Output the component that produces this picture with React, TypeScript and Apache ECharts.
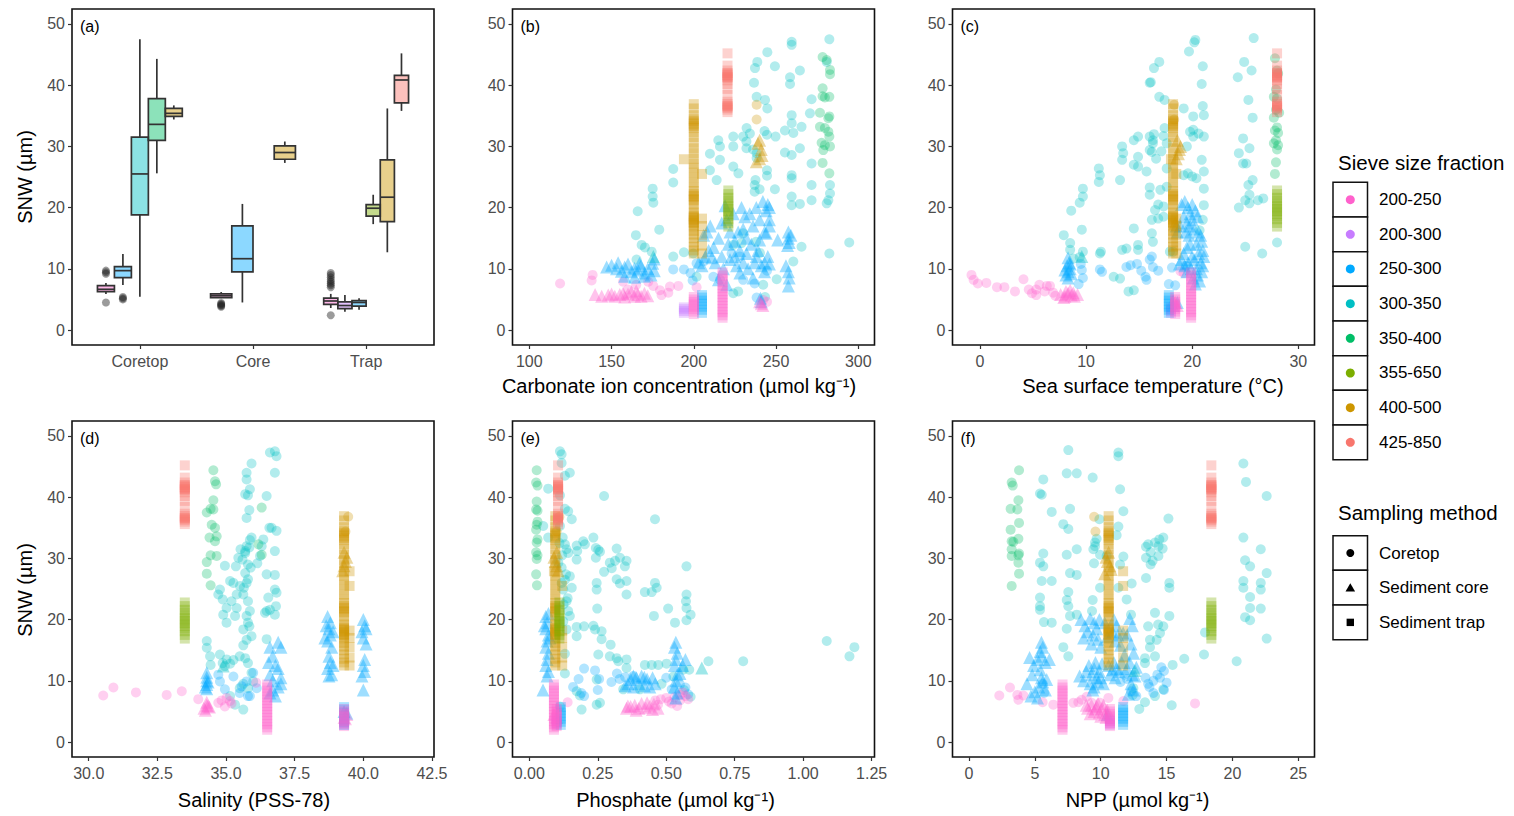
import React, { useEffect, useRef } from "react";
import * as echarts from "echarts";

// ---------- categories ----------
const FRACTIONS = ["200-250", "200-300", "250-300", "300-350", "350-400", "355-650", "400-500", "425-850"];
const FRACTION_COLORS = ["#FF61CC", "#C77CFF", "#00A9FF", "#00BFC4", "#00BE67", "#7CAE00", "#CD9600", "#F8766D"];
const METHODS = ["Coretop", "Sediment core", "Sediment trap"];
const BOX_GROUPS = ["Coretop", "Core", "Trap"];
const Y_TICKS = [0, 10, 20, 30, 40, 50];

// ---------- panel (a): boxplot stats [low whisker, q1, median, q3, high whisker] ----------
const BOX_CORETOP_FRAC = ["200-250", "250-300", "300-350", "350-400", "400-500"];
const BOX_CORETOP_STATS = [
  [5.9, 6.27, 6.65, 7.25, 7.7],
  [7.35, 8.55, 9.7, 10.35, 12.4],
  [5.45, 18.8, 25.5, 31.5, 47.5],
  [25.6, 31.0, 33.6, 37.8, 44.3],
  [34.4, 34.9, 35.4, 36.2, 36.7],
];
const BOX_CORE_FRAC = ["200-250", "250-300", "300-350", "400-500"];
const BOX_CORE_STATS = [
  [5.2, 5.3, 5.6, 5.9, 6.2],
  [4.5, 9.5, 11.65, 17.0, 20.6],
  null,
  [27.3, 27.9, 29.0, 30.1, 30.8],
];
const BOX_TRAP_FRAC = ["200-250", "200-300", "250-300", "355-650", "400-500", "425-850"];
const BOX_TRAP_STATS = [
  [3.6, 4.2, 4.74, 5.2, 5.9],
  [3.0, 3.5, 4.0, 4.6, 5.7],
  [3.3, 3.9, 4.5, 4.8, 5.2],
  [17.3, 18.6, 19.9, 20.5, 22.1],
  [12.7, 17.7, 21.7, 27.8, 36.2],
  [35.8, 37.1, 40.85, 41.6, 45.2],
];
const OUT_CORETOP_200_250 = [4.5, 9.2, 9.45, 9.7];
const OUT_CORETOP_250_300 = [5.0, 5.2, 5.4];
const OUT_CORE_200_250 = [3.8, 3.95, 4.1, 4.25, 4.4];
const OUT_TRAP_200_250 = [2.4, 7.0, 7.3, 7.6, 7.9, 8.2, 8.6, 9.0, 9.3];

// ---------- sediment trap sites: env = [carbonate, SST, salinity, phosphate, NPP] ----------
const TRAP_SALMON_ENV = [220.5, 28.0, 33.5, 0.105, 18.4];
const TRAP_SALMON_SNW = [35.6, 36.0, 36.3, 36.5, 36.6, 36.8, 36.9, 37.3, 38.4, 39.4, 40.2, 40.8, 41.1, 41.3, 41.4, 41.6, 41.7, 41.9, 42.0, 42.4, 43.2, 45.2];
const TRAP_YGREEN_ENV = [221.0, 28.0, 33.5, 0.11, 18.4];
const TRAP_YGREEN_SNW = [16.9, 17.5, 18.1, 18.6, 19.0, 19.4, 19.8, 20.2, 20.6, 21.1, 21.6, 22.2, 22.8];
const TRAP_GOLD_ENV = [200.0, 18.2, 39.3, 0.095, 10.6];
const TRAP_GOLD_SNW = [12.5, 13.0, 13.6, 14.3, 15.0, 15.6, 16.2, 16.7, 17.1, 17.5, 17.6, 17.9, 18.1, 18.3, 18.5, 18.7, 19.2, 19.8, 20.5, 21.2, 21.4, 21.7, 21.9, 22.2, 22.7, 23.3, 24.1, 24.9, 25.7, 26.5, 27.2, 28.0, 28.9, 29.7, 30.6, 31.5, 32.3, 33.0, 33.3, 33.6, 33.9, 34.2, 34.5, 35.1, 36.2, 36.9];
const TRAP_GOLD2_ENV = [205.0, 18.5, 39.5, 0.12, 11.7];
const TRAP_GOLD2_SNW = [12.5, 13.8, 15.5, 17.0, 18.2, 25.5];
const TRAP_GOLD3_ENV = [194.0, 18.0, 39.5, 0.09, 11.7];
const TRAP_GOLD3_SNW = [27.9];
const TRAP_PINK_A_ENV = [200.0, 18.4, 39.3, 0.10, 10.7];
const TRAP_PINK_A_SNW = [2.6, 3.0, 3.4, 3.8, 4.2, 4.6, 5.0, 5.4];
const TRAP_PINK_B_ENV = [217.5, 19.9, 36.5, 0.09, 7.1];
const TRAP_PINK_B_SNW = [2.0, 2.4, 2.9, 3.4, 3.9, 4.4, 4.9, 5.4, 5.9, 6.4, 6.9, 7.4, 7.9, 8.4, 8.9, 9.4];
const TRAP_PURPLE_ENV = [194.0, 18.0, 39.3, 0.10, 10.7];
const TRAP_PURPLE_SNW = [2.8, 3.1, 3.4, 3.7];
const TRAP_BLUE_ENV = [205.0, 17.8, 39.3, 0.115, 11.7];
const TRAP_BLUE_SNW = [2.8, 3.3, 3.8, 4.3, 4.8, 5.3, 5.7];

// ---------- panel (b): carbonate ion ----------
const B_CT_PINK = [[118.7, 7.6], [138.5, 9.0], [137.9, 8.1], [157, 7.9], [172.3, 7.9], [175.4, 7.2], [179.4, 6.5], [180.4, 5.7], [185.5, 7.1], [190.6, 7.2], [201.7, 7.0], [184.5, 6.1], [165, 7.4], [160, 6.6], [242.2, 4.9], [244.5, 4.6]];
const B_CT_BLUE = [[187.5, 9.9], [194, 9.9], [198, 9.3], [199.3, 8.1], [201.7, 10.9], [211.9, 8.7], [216, 8.2], [223, 12.5], [230, 8.2], [237, 7.6], [238.2, 5.3], [244.5, 9.7], [228, 12.0], [206, 11.2]];
const B_CT_CYAN = [[282.4, 47.5], [259.5, 47.1], [259.5, 46.6], [244.7, 45.4], [249.3, 43.1], [238.6, 43.8], [237.2, 42.8], [264.5, 42.4], [280.8, 43.8], [258.5, 41.3], [258.5, 40.2], [236.6, 40.4], [238.2, 38.1], [243.3, 37.6], [244.7, 36.2], [271.6, 37.7], [270.6, 35.4], [259.5, 35.1], [259.5, 33.8], [265.5, 33.2], [260.5, 32.2], [255.4, 32.6], [232.1, 33.0], [234.1, 32.1], [230, 31.6], [224, 31.6], [214.9, 31.0], [224, 30.0], [215.9, 30.0], [232, 29.7], [244.5, 31.9], [249.7, 31.6], [264.5, 29.7], [255.4, 29.0], [259.5, 28.6], [238.2, 28.9], [238.2, 28.1], [209.8, 28.8], [215.9, 27.8], [224, 26.7], [227.1, 25.6], [209.8, 26.1], [213.9, 24.5], [244.5, 26.1], [244.5, 25.2], [259.5, 25.3], [259.5, 24.8], [271.6, 27.2], [271.6, 23.7], [237, 23.7], [237, 22.6], [249.3, 23.0], [282.8, 23.7], [282.8, 22.3], [281.8, 21.2], [259.5, 21.8], [259.5, 20.4], [264.5, 20.6], [271.6, 21.2], [280.8, 20.7], [187.5, 26.3], [187.5, 24.1], [175, 23.1], [175, 21.8], [175.4, 20.8], [165.9, 19.4], [179, 16.4], [164.8, 15.5], [168.3, 13.9], [170.3, 13.5], [174.4, 12.8], [165.2, 11.5], [187.5, 12.0], [194, 12.7], [199.7, 12.5], [201.7, 8.7], [224, 13.9], [229, 14.2], [230, 15.8], [237.8, 14.4], [240.2, 12.6], [265.5, 13.6], [260.5, 11.2], [282.4, 12.5], [294.5, 14.3], [250.4, 8.3], [242.2, 7.4], [224, 6.0], [227, 6.3], [243.3, 5.4], [237.5, 24.5], [240, 23.0], [243, 32.5], [236, 29.5], [232, 30.8]];
const B_CT_GREEN = [[278.3, 44.6], [280.8, 44.1], [282.8, 42.5], [282.8, 41.8], [278.3, 39.5], [278.3, 38.2], [279.7, 38.0], [282.4, 38.1], [276.7, 35.5], [282.4, 34.9], [281.8, 34.6], [276.7, 33.2], [279.7, 33.0], [281.8, 32.4], [282.4, 31.6], [277.7, 30.6], [279.7, 30.2], [282.8, 30.0], [278.7, 29.4], [278.3, 27.3], [282.4, 25.6]];
const B_CT_GOLD = [[238.2, 36.8], [238.2, 34.4]];
const B_SC_PINK = [[140, 5.8], [144, 5.5], [148, 5.7], [152, 5.5], [155, 5.8], [158, 5.4], [160, 5.9], [162, 6.2], [164, 5.5], [166, 5.8], [168, 5.5], [170, 6.0], [172, 5.6], [150, 5.9], [165, 6.4], [157, 6.0], [241, 4.3], [242, 4.0], [240, 4.6]];
const B_SC_BLUE = [[147, 10.3], [150, 10.6], [153, 10.0], [156, 9.6], [158, 10.3], [160, 10.8], [162, 9.5], [164, 10.1], [166, 9.8], [168, 10.5], [170, 9.3], [172, 10.0], [174, 9.0], [175, 10.9], [176, 9.7], [158, 8.8], [164, 8.6], [170, 8.8], [176, 11.6], [154, 11.0], [167, 10.9],
  [203, 11], [205, 10.5], [207, 12], [208, 16], [210, 17], [206, 15.5], [212, 13.5], [213, 11], [215, 15], [217, 12], [218, 10], [219, 20.3], [220, 18], [221, 14], [222, 11.5], [224, 19], [225, 12], [226, 10.5], [227, 16], [228, 13], [229, 20], [230, 11], [231, 18.5], [232, 12.5], [233, 10], [234, 19], [235, 14], [236, 17], [237, 11], [238, 20], [239, 13], [240, 18], [241, 10.5], [242, 21], [243, 16], [244, 19.5], [245, 12], [246, 18], [243, 9.5], [236, 8.5], [228, 9.3], [215, 8.2], [220, 7.4], [240, 14.7], [244, 15.8], [245, 20.5], [238, 12], [232, 15], [225, 14.5], [211, 11.8], [209, 13], [243, 11], [246, 10.8], [217, 17.5], [222, 16], [230, 16.5],
  [257.5, 16], [257.5, 15], [258, 14.3], [257, 13.8], [256, 10.5], [257.5, 9.5], [258, 8.5], [257.5, 7.2], [259, 15.5], [251, 14.7], [246, 20], [246, 17], [240.5, 5.2], [241, 4.6]];
const B_SC_GOLD = [[240, 31], [241, 29.5], [240, 28], [239, 30.5], [241.5, 28.5], [238, 27.5]];
const B_SC_CYAN = [[175.4, 12.0]];

// ---------- panel (c): sea surface temperature ----------
const C_CT_PINK = [[-0.8, 9.0], [-0.6, 8.2], [-0.2, 7.6], [0.6, 7.7], [1.6, 7.0], [2.3, 7.0], [3.3, 6.3], [4.1, 8.3], [4.6, 6.6], [5.3, 6.6], [5.6, 7.4], [5.3, 5.7], [6.3, 7.2], [6.6, 7.2], [6.9, 6.1], [7.1, 5.6], [6.1, 6.3], [4.9, 6.0], [18.9, 9.6], [19.2, 9.3]];
const C_CT_BLUE = [[9.5, 10.8], [9.6, 9.8], [9.7, 8.5], [9.3, 7.5], [11.3, 9.9], [11.5, 9.5], [13.8, 10.3], [14.2, 10.6], [14.8, 10.8], [15.2, 9.7], [15.6, 8.7], [15.7, 8.2], [16.3, 10.3], [16.8, 9.7], [16.2, 12.0], [17.8, 7.5], [18.1, 10.2], [18.4, 7.3], [16.0, 11.5], [19.4, 10.5]];
const C_CT_CYAN = [[8.6, 19.5], [9.4, 20.8], [9.7, 21.8], [9.7, 23.1], [7.9, 15.5], [8.5, 14.2], [8.5, 13.1], [9.6, 16.4], [9.7, 12.8], [8.8, 11.7], [9.4, 11.9], [11.3, 12.5], [11.4, 12.8], [11.2, 26.4], [11.3, 25.3], [11.2, 24.2], [12.6, 8.7], [13.2, 24.5], [13.4, 30.0], [13.5, 28.9], [13.4, 27.8], [13.4, 13.1], [13.8, 13.3], [13.2, 8.4], [14.0, 6.3], [14.5, 6.5], [14.5, 16.6], [14.5, 31.0], [14.5, 27.0], [14.9, 31.6], [14.9, 28.3], [14.9, 26.7], [14.9, 13.9], [14.9, 13.1], [15.7, 25.9], [16.0, 31.6], [16.3, 31.0], [16.0, 29.4], [16.2, 29.1], [16.0, 23.3], [16.0, 22.1], [16.0, 40.4], [16.4, 42.8], [16.9, 43.8], [16.9, 38.1], [16.2, 15.8], [16.3, 14.4], [16.5, 19.6], [17.0, 22.9], [16.8, 18.2], [17.3, 20.2], [17.4, 37.6], [17.4, 33.0], [17.3, 31.7], [17.6, 30.5], [17.6, 26.4], [17.6, 23.4], [17.9, 12.8], [18.2, 12.8], [19.2, 36.2], [19.8, 32.4], [20.1, 32.7], [20.1, 31.6], [19.5, 30.0], [19.7, 45.5], [20.2, 47.0], [20.3, 47.4], [21.0, 43.1], [20.9, 40.2], [21.0, 36.6], [21.1, 35.1], [20.6, 32.1], [21.1, 31.6], [20.1, 34.9], [19.2, 25.3], [19.6, 25.6], [20.0, 25.1], [20.4, 24.8], [20.9, 27.8], [21.1, 25.9], [21.1, 23.1], [21.1, 20.4], [21.0, 18.0], [20.7, 16.3], [24.3, 41.3], [24.9, 43.8], [25.6, 42.4], [25.8, 47.7], [25.3, 37.6], [25.7, 34.7], [24.8, 31.3], [25.4, 29.7], [24.4, 28.9], [24.8, 27.2], [25.1, 27.2], [25.3, 23.7], [25.7, 24.5], [25.4, 22.1], [25.0, 21.2], [24.4, 20.0], [25.4, 20.7], [26.2, 21.2], [26.7, 21.5], [25.0, 13.6], [26.6, 12.5], [28.0, 14.3], [16.3, 30.5], [16.4, 32.0], [16.1, 40.5], [17.1, 29.2], [16.6, 28.0], [16.2, 18.0], [17.3, 18.5], [16.8, 20.5]];
const C_CT_GREEN = [[27.8, 44.4], [28.0, 42.4], [28.1, 41.9], [27.9, 39.3], [27.7, 38.1], [28.0, 37.8], [27.9, 36.0], [28.2, 35.5], [27.7, 34.7], [28.0, 33.1], [27.8, 32.6], [28.1, 32.2], [27.9, 31.0], [27.7, 30.5], [28.1, 30.2], [28.0, 29.5], [27.9, 27.4], [27.8, 25.5]];
const C_CT_GOLD = [[18.3, 36.8], [18.3, 34.4]];
const C_SC_PINK = [[7.6, 5.8], [8.0, 5.5], [8.3, 6.0], [8.6, 5.7], [8.9, 5.5], [9.2, 5.8], [8.1, 6.3], [8.5, 6.5], [7.9, 5.3], [8.8, 6.1], [18.4, 4.5], [18.6, 4.0], [18.2, 4.8]];
const C_SC_BLUE = [[8.1, 9.0], [8.3, 9.5], [8.5, 10], [8.2, 10.5], [8.4, 11], [8.3, 11.8], [8.0, 9.8], [8.6, 9.2], [8.3, 8.5], [8.5, 10.8],
  [19.0, 20.5], [19.3, 21], [19.6, 20], [19.8, 19], [20.0, 18], [19.2, 18.5], [19.5, 17.5], [19.8, 17], [20.2, 16.5], [18.9, 17], [19.4, 16], [19.7, 15.5], [20.3, 19.5], [20.5, 18.5], [20.6, 16], [20.9, 14.5], [21.0, 13], [20.8, 15.5], [19.2, 12.5], [19.5, 13.5], [19.8, 14], [20.0, 12], [19.0, 11.5], [19.3, 10.5], [19.6, 11], [19.9, 10], [20.2, 11.5], [20.4, 10], [20.6, 12.5], [20.8, 11], [21.0, 10.5], [20.5, 9], [20.1, 8.5], [20.7, 8], [20.3, 7.5], [20.9, 9.5], [19.5, 9.5], [18.8, 10.8], [18.6, 16], [18.5, 17], [20.0, 20.5], [21.1, 12], [20.4, 14], [18.6, 4.5], [18.2, 4.0]];
const C_SC_GOLD = [[18.6, 31], [18.8, 29.5], [18.5, 28], [18.9, 30], [18.7, 28.8], [18.4, 17.5]];
const C_SC_CYAN = [[9.6, 12.0]];

// ---------- panel (d): salinity ----------
const D_CT_PINK = [[30.53, 7.6], [30.9, 8.9], [31.72, 8.1], [32.84, 7.7], [33.39, 8.3], [33.99, 7.0], [34.72, 6.4], [34.84, 6.8], [35.02, 7.2], [35.15, 6.7], [34.96, 5.8], [35.2, 6.3], [36.1, 9.7]];
const D_CT_BLUE = [[34.72, 11.0], [34.78, 9.9], [34.96, 8.6], [35.5, 8.0], [35.8, 7.5], [35.27, 10.7], [35.57, 9.1], [35.99, 11.3], [36.12, 8.8], [35.75, 9.9], [35.87, 7.5]];
const D_CT_CYAN = [[34.3, 16.5], [34.3, 15.4], [34.42, 14.0], [34.44, 12.6], [34.78, 14.3], [34.88, 12.9], [34.96, 12.4], [35.02, 13.5], [35.15, 12.8], [35.27, 13.4], [35.5, 14.0], [35.7, 13.7], [35.8, 12.9], [34.78, 24.9], [34.72, 24.1], [34.96, 28.8], [34.88, 23.3], [35.02, 21.9], [35.2, 23.0], [34.9, 20.8], [35.02, 19.5], [35.33, 20.6], [35.39, 21.9], [35.39, 24.1], [35.27, 26.0], [35.15, 26.3], [35.51, 25.5], [35.36, 28.7], [35.45, 30.1], [35.53, 31.5], [35.6, 29.8], [35.7, 30.9], [35.75, 32.0], [35.87, 33.0], [35.93, 33.4], [35.7, 27.6], [35.75, 26.0], [35.8, 26.6], [35.63, 24.1], [35.8, 23.0], [35.75, 20.6], [35.8, 19.5], [35.63, 18.4], [35.85, 18.9], [35.87, 21.4], [35.75, 16.7], [35.63, 15.8], [35.93, 17.3], [35.75, 36.6], [35.85, 37.9], [35.7, 40.5], [35.75, 42.9], [35.75, 44.0], [35.93, 45.5], [35.87, 41.3], [35.8, 40.3], [36.14, 29.2], [36.24, 30.4], [36.3, 32.0], [36.36, 33.1], [36.48, 40.2], [36.58, 35.0], [36.48, 27.4], [36.54, 23.6], [36.48, 21.4], [36.42, 21.1], [36.6, 21.6], [36.48, 16.8], [36.6, 47.3], [36.78, 47.5], [36.84, 46.7], [36.78, 44.0], [36.84, 34.5], [36.66, 35.0], [36.78, 31.2], [36.78, 27.3], [36.78, 24.9], [36.84, 24.4], [36.82, 22.2], [36.78, 20.8], [35.93, 11.3], [35.99, 9.9], [35.5, 8.8], [35.63, 9.5], [35.8, 8.8], [35.63, 5.3], [35.33, 6.1], [35.15, 7.5], [35.7, 31.2], [35.8, 29.0], [35.65, 25.2], [35.85, 31.8], [35.9, 28.5]];
const D_CT_GREEN = [[34.54, 44.4], [34.6, 42.6], [34.64, 42.1], [34.54, 39.5], [34.44, 38.1], [34.54, 38.0], [34.3, 37.5], [34.48, 35.5], [34.6, 35.0], [34.4, 33.4], [34.6, 32.8], [34.66, 33.6], [34.44, 30.5], [34.66, 30.4], [34.3, 29.4], [34.3, 27.5], [34.44, 25.6], [36.3, 38.3], [36.3, 30.6], [36.18, 32.3]];
const D_CT_GOLD = [[39.45, 36.8], [39.35, 34.4]];
const D_SC_PINK = [[34.2, 5.5], [34.3, 6.0], [34.4, 5.7], [34.3, 6.5], [34.25, 5.2], [34.35, 5.9], [39.3, 4.0], [39.4, 4.5], [39.35, 3.8]];
const D_SC_BLUE = [[34.3, 8.7], [34.3, 9.4], [34.3, 10.0], [34.3, 10.6], [34.3, 11.3], [34.25, 9.0], [34.35, 9.8],
  [36.6, 15.5], [36.7, 14], [36.8, 12.5], [36.6, 11], [36.7, 10], [36.9, 9], [36.6, 8], [36.8, 7.5], [37.0, 10.5], [37.0, 15.5], [36.9, 16.3], [36.55, 13], [36.7, 8.5], [37.0, 9.5], [36.9, 12],
  [38.7, 20.5], [38.8, 19.5], [38.75, 18.5], [38.8, 17.5], [38.7, 16.5], [38.85, 15.5], [38.75, 14], [38.8, 13], [38.7, 12], [38.85, 11], [38.75, 10.8], [38.65, 19], [38.9, 18], [38.6, 17], [38.9, 12.5],
  [40.0, 20], [40.05, 19], [39.95, 18], [40.0, 17], [40.1, 16], [40.0, 12.5], [40.05, 11.5], [39.95, 10.8], [40.0, 8.5], [40.05, 13.5], [40.1, 18.5], [39.3, 5.0], [39.4, 4.7]];
const D_SC_GOLD = [[39.3, 31], [39.35, 29.5], [39.25, 28], [39.4, 30.2], [39.3, 28.8]];
const D_SC_CYAN = [[34.9, 12.4]];

// ---------- panel (e): phosphate ----------
const E_CT_PINK = [[0.14, 6.5], [0.46, 6.8], [0.48, 7.0], [0.5, 7.2], [0.52, 6.3], [0.53, 7.3], [0.54, 5.9], [0.55, 6.8], [0.57, 7.5], [0.58, 7.0], [0.56, 8.1], [0.47, 6.1], [0.51, 6.6], [0.55, 7.7]];
const E_CT_BLUE = [[0.2, 12.0], [0.18, 10.3], [0.19, 8.0], [0.2, 7.5], [0.24, 11.7], [0.255, 10.3], [0.25, 8.5], [0.3, 9.8], [0.33, 10.3], [0.32, 11.2], [0.35, 10.6], [0.38, 10.8], [0.5, 10.5], [0.52, 8.6], [0.55, 9.4], [0.57, 8.9], [0.58, 7.8], [0.16, 9.0]];
const E_CT_CYAN = [[0.112, 47.5], [0.118, 47.0], [0.118, 45.6], [0.13, 43.5], [0.148, 44.0], [0.069, 41.4], [0.112, 40.3], [0.13, 38.1], [0.142, 37.7], [0.155, 36.4], [0.051, 35.3], [0.069, 33.4], [0.112, 35.3], [0.122, 33.4], [0.13, 32.3], [0.136, 31.5], [0.142, 30.9], [0.106, 29.3], [0.118, 28.5], [0.134, 27.4], [0.148, 27.1], [0.118, 26.0], [0.124, 24.9], [0.155, 25.2], [0.136, 23.0], [0.142, 21.4], [0.148, 20.6], [0.124, 19.7], [0.136, 18.4], [0.13, 14.4], [0.13, 11.2], [0.173, 32.1], [0.175, 31.2], [0.173, 29.8], [0.197, 32.8], [0.203, 32.3], [0.234, 33.4], [0.243, 31.7], [0.252, 31.4], [0.258, 31.1], [0.243, 30.1], [0.319, 31.6], [0.313, 29.6], [0.294, 29.3], [0.273, 27.8], [0.301, 28.4], [0.331, 30.1], [0.349, 28.7], [0.355, 29.6], [0.319, 26.6], [0.331, 25.9], [0.355, 26.3], [0.355, 24.1], [0.246, 26.0], [0.246, 24.9], [0.248, 21.8], [0.422, 24.5], [0.447, 24.5], [0.459, 26.0], [0.465, 25.2], [0.455, 20.6], [0.459, 36.4], [0.273, 40.2], [0.507, 21.8], [0.574, 28.7], [0.574, 24.1], [0.572, 23.0], [0.574, 21.9], [0.589, 20.8], [0.574, 19.9], [0.532, 19.5], [1.086, 16.5], [1.187, 15.5], [1.169, 14.0], [0.781, 13.2], [0.654, 13.2], [0.173, 18.8], [0.2, 18.9], [0.234, 19.0], [0.24, 18.4], [0.264, 18.1], [0.264, 16.8], [0.297, 15.9], [0.173, 17.3], [0.294, 14.0], [0.252, 14.3], [0.319, 13.7], [0.325, 13.2], [0.355, 13.5], [0.355, 12.1], [0.422, 12.6], [0.447, 12.6], [0.471, 12.6], [0.501, 12.8], [0.562, 11.8], [0.584, 11.8], [0.246, 10.2], [0.173, 8.3], [0.185, 7.6], [0.191, 5.3], [0.246, 6.1], [0.258, 6.4], [0.343, 8.6], [0.404, 8.6], [0.483, 9.5], [0.526, 10.7], [0.565, 8.5], [0.589, 7.4], [0.112, 5.8], [0.125, 22.5], [0.13, 26.5], [0.12, 30.5], [0.11, 32.5], [0.14, 23.5]];
const E_CT_GREEN = [[0.027, 44.4], [0.025, 42.4], [0.03, 41.9], [0.027, 39.3], [0.025, 38.0], [0.03, 37.8], [0.027, 35.5], [0.025, 34.7], [0.03, 33.1], [0.027, 32.6], [0.025, 31.0], [0.03, 30.5], [0.027, 29.9], [0.025, 27.4], [0.028, 25.6], [0.03, 36.0]];
const E_CT_GOLD = [[0.1, 34.4], [0.11, 36.8]];
const E_SC_PINK = [[0.355, 5.5], [0.37, 5.8], [0.385, 6.0], [0.40, 5.5], [0.41, 6.3], [0.425, 5.6], [0.44, 5.9], [0.455, 6.2], [0.47, 5.5], [0.39, 5.2], [0.43, 6.4], [0.45, 5.3], [0.36, 5.9], [0.09, 4.5], [0.1, 4.0]];
const E_SC_BLUE = [[0.06, 20.5], [0.07, 21], [0.065, 19.5], [0.06, 18.5], [0.07, 17.5], [0.065, 16.5], [0.06, 15.5], [0.07, 14.5], [0.065, 13.5], [0.06, 12.5], [0.07, 11.5], [0.065, 10.8], [0.055, 19], [0.075, 17], [0.05, 8.5],
  [0.36, 9.5], [0.37, 10.2], [0.38, 9.0], [0.39, 10.5], [0.40, 9.5], [0.41, 10.8], [0.42, 9.2], [0.43, 10.3], [0.44, 9.0], [0.45, 10.5], [0.46, 9.5], [0.38, 10.8], [0.42, 10.6], [0.35, 9.2],
  [0.535, 16.3], [0.53, 15.5], [0.54, 14.5], [0.535, 13.5], [0.53, 12.5], [0.54, 11], [0.535, 10], [0.53, 9], [0.54, 8], [0.535, 7.2], [0.57, 13.5], [0.56, 12.5], [0.55, 11.2]];
const E_SC_GOLD = [[0.1, 31], [0.095, 29.5], [0.105, 28], [0.09, 30.2], [0.1, 28.8]];
const E_SC_CYAN = [[0.63, 12.1]];

// ---------- panel (f): NPP ----------
const F_CT_PINK = [[2.3, 7.6], [3.11, 8.9], [3.67, 7.7], [3.75, 6.9], [4.13, 7.6], [5.59, 6.5], [6.4, 6.1], [7.92, 6.4], [8.3, 6.5], [8.93, 7.4], [9.31, 6.4], [17.16, 6.3], [11.72, 6.7], [10.58, 7.2], [9.95, 6.4], [8.55, 6.9]];
const F_CT_BLUE = [[5.6, 9.5], [5.7, 8.0], [11.5, 9.8], [11.8, 11.0], [12.0, 10.3], [12.3, 8.3], [13.4, 10.5], [13.6, 9.5], [14.0, 10.0], [14.3, 11.0], [14.6, 12.2], [14.8, 11.6], [14.0, 8.0], [13.7, 9.0], [14.8, 8.5], [15.0, 9.7], [14.5, 10.5], [12.7, 7.5]];
const F_CT_CYAN = [[7.54, 47.7], [11.34, 47.3], [11.34, 46.7], [9.39, 43.2], [7.42, 43.9], [8.18, 43.9], [5.64, 42.9], [11.47, 41.3], [5.39, 40.6], [5.52, 40.4], [7.67, 38.1], [6.28, 37.6], [11.72, 37.7], [15.14, 36.5], [7.16, 35.6], [7.54, 34.8], [11.34, 35.2], [11.21, 33.8], [9.9, 36.4], [9.69, 33.2], [9.57, 32.0], [9.44, 31.5], [9.57, 32.6], [8.18, 31.5], [5.64, 30.8], [7.42, 30.6], [10.45, 30.4], [11.72, 30.3], [9.95, 30.6], [5.39, 29.3], [5.64, 28.7], [9.49, 29.2], [11.47, 29.0], [7.67, 27.6], [8.18, 27.3], [5.52, 26.3], [6.28, 26.3], [9.95, 25.2], [11.34, 25.2], [12.35, 25.9], [7.54, 24.5], [5.39, 23.6], [5.39, 22.2], [5.39, 21.6], [7.42, 23.2], [7.54, 22.2], [9.39, 23.2], [11.97, 23.3], [9.34, 21.4], [8.18, 20.8], [7.67, 20.6], [5.69, 19.6], [6.28, 19.5], [7.42, 18.5], [12.3, 20.8], [14.12, 21.1], [15.21, 20.6], [13.6, 18.9], [14.36, 19.2], [14.75, 18.9], [13.74, 16.7], [14.25, 16.7], [14.5, 17.8], [7.16, 15.5], [7.54, 14.0], [13.74, 15.5], [13.36, 13.7], [14.12, 14.0], [15.46, 12.6], [16.34, 13.6], [17.84, 14.3], [20.32, 13.2], [13.36, 12.9], [13.44, 31.9], [13.6, 32.3], [13.79, 31.0], [13.94, 29.6], [13.79, 29.0], [14.12, 32.6], [14.38, 32.0], [14.45, 33.1], [14.75, 33.4], [14.7, 31.6], [14.38, 30.4], [13.44, 30.1], [13.44, 26.8], [15.21, 26.0], [15.21, 25.2], [20.83, 45.5], [21.03, 42.5], [22.6, 40.2], [20.83, 33.4], [20.96, 29.7], [21.34, 28.7], [22.15, 31.5], [20.83, 26.3], [20.83, 25.2], [21.34, 23.7], [22.15, 26.0], [22.15, 24.9], [22.6, 27.6], [21.34, 21.9], [22.15, 21.8], [20.96, 20.4], [21.34, 19.9], [22.6, 16.9], [17.92, 17.9], [15.39, 6.0], [12.93, 5.4], [13.36, 6.5], [12.43, 7.7], [12.48, 8.8], [14.12, 7.5], [14.75, 8.6]];
const F_CT_GREEN = [[3.24, 42.4], [3.32, 41.9], [3.8, 44.4], [3.75, 39.5], [3.16, 38.1], [3.67, 38.0], [3.8, 35.8], [3.16, 34.7], [3.24, 32.8], [3.37, 32.7], [3.75, 33.2], [3.24, 31.5], [3.8, 30.8], [3.75, 30.5], [3.75, 29.3], [3.8, 27.5], [3.24, 25.5], [3.24, 30.4]];
const F_CT_GOLD = [[9.5, 36.8], [9.6, 34.4]];
const F_SC_PINK = [[9.0, 5.5], [9.3, 6.0], [9.5, 5.0], [9.7, 5.8], [9.9, 4.8], [10.1, 5.5], [10.3, 4.5], [10.5, 5.2], [9.2, 4.6], [9.8, 6.3], [10.0, 4.2], [10.4, 4.0], [9.6, 5.4], [8.9, 6.0], [10.2, 6.0]];
const F_SC_BLUE = [[5.5, 16.3], [5.6, 15.5], [5.4, 14.8], [5.5, 14.0], [5.2, 13.5], [4.6, 13.8], [4.9, 12.5], [5.8, 13.0], [6.1, 13.5], [4.8, 11.0], [5.5, 10.5], [5.6, 9.8], [5.3, 9.0], [5.0, 8.2], [4.7, 7.5], [5.2, 7.2], [5.8, 8.5], [5.9, 10.2], [4.4, 9.5], [5.4, 11.8],
  [8.5, 20], [8.8, 19], [9.2, 20.2], [9.5, 19.5], [9.7, 18.5], [9.9, 20], [9.0, 18], [9.4, 17.5], [8.7, 17], [9.3, 16], [9.8, 16.8], [10.0, 15.5], [8.9, 11.5], [9.1, 12.5], [9.3, 11.0], [9.5, 12], [9.7, 10.5], [9.9, 11.5], [9.2, 9.5], [9.5, 9.0], [9.8, 9.8], [10.0, 10.5], [8.7, 10], [8.4, 10.8], [10.2, 9.5], [9.6, 13.0], [9.4, 8.5], [10.1, 12.8],
  [11.0, 20], [11.2, 19], [10.9, 18], [11.3, 17.5], [11.1, 16.5], [11.5, 15.8], [11.0, 13], [11.2, 12], [11.4, 11.5], [11.1, 10.5], [10.9, 11.8], [11.6, 13], [12.2, 20.2], [12.4, 19], [12.0, 17.5], [12.3, 16], [12.5, 14.5], [12.2, 13], [12.0, 12], [12.4, 11], [12.6, 10.8], [12.3, 9.5], [12.5, 8.5], [12.1, 7.8], [11.8, 14.2], [11.7, 17.8], [12.7, 12.2], [10.6, 12.5], [10.7, 11.0], [10.3, 19.5], [10.5, 17.2], [10.5, 4.5]];
const F_SC_GOLD = [[10.6, 31], [10.5, 29.5], [10.8, 28.2], [10.4, 30.2], [10.7, 28.8], [10.3, 27.5]];
const F_SC_CYAN = [[12.6, 11.7]];

// ---------- axes ----------
const X_AXES = [
  { min: 89.79, max: 309.85, ticks: [100, 150, 200, 250, 300], dec: 0 },
  { min: -2.59, max: 31.53, ticks: [0, 10, 20, 30], dec: 0 },
  { min: 29.392, max: 42.575, ticks: [30, 32.5, 35, 37.5, 40, 42.5], dec: 1 },
  { min: -0.0613, max: 1.2604, ticks: [0, 0.25, 0.5, 0.75, 1.0, 1.25], dec: 2 },
  { min: -1.253, max: 26.23, ticks: [0, 5, 10, 15, 20, 25], dec: 0 },
];
const X_TITLES = ["Carbonate ion concentration (µmol kg⁻¹)", "Sea surface temperature (°C)", "Salinity (PSS-78)", "Phosphate (µmol kg⁻¹)", "NPP (µmol kg⁻¹)"];
const PANEL_LABELS = ["(a)", "(b)", "(c)", "(d)", "(e)", "(f)"];

const PANEL_POINTS = [
  { ctPink: B_CT_PINK, ctBlue: B_CT_BLUE, ctCyan: B_CT_CYAN, ctGreen: B_CT_GREEN, ctGold: B_CT_GOLD, scPink: B_SC_PINK, scBlue: B_SC_BLUE, scGold: B_SC_GOLD, scCyan: B_SC_CYAN },
  { ctPink: C_CT_PINK, ctBlue: C_CT_BLUE, ctCyan: C_CT_CYAN, ctGreen: C_CT_GREEN, ctGold: C_CT_GOLD, scPink: C_SC_PINK, scBlue: C_SC_BLUE, scGold: C_SC_GOLD, scCyan: C_SC_CYAN },
  { ctPink: D_CT_PINK, ctBlue: D_CT_BLUE, ctCyan: D_CT_CYAN, ctGreen: D_CT_GREEN, ctGold: D_CT_GOLD, scPink: D_SC_PINK, scBlue: D_SC_BLUE, scGold: D_SC_GOLD, scCyan: D_SC_CYAN },
  { ctPink: E_CT_PINK, ctBlue: E_CT_BLUE, ctCyan: E_CT_CYAN, ctGreen: E_CT_GREEN, ctGold: E_CT_GOLD, scPink: E_SC_PINK, scBlue: E_SC_BLUE, scGold: E_SC_GOLD, scCyan: E_SC_CYAN },
  { ctPink: F_CT_PINK, ctBlue: F_CT_BLUE, ctCyan: F_CT_CYAN, ctGreen: F_CT_GREEN, ctGold: F_CT_GOLD, scPink: F_SC_PINK, scBlue: F_SC_BLUE, scGold: F_SC_GOLD, scCyan: F_SC_CYAN },
];

const TRAP_SITES = [
  { env: TRAP_GOLD_ENV, snw: TRAP_GOLD_SNW, frac: "400-500" },
  { env: TRAP_GOLD2_ENV, snw: TRAP_GOLD2_SNW, frac: "400-500" },
  { env: TRAP_GOLD3_ENV, snw: TRAP_GOLD3_SNW, frac: "400-500" },
  { env: TRAP_SALMON_ENV, snw: TRAP_SALMON_SNW, frac: "425-850" },
  { env: TRAP_YGREEN_ENV, snw: TRAP_YGREEN_SNW, frac: "355-650" },
  { env: TRAP_PURPLE_ENV, snw: TRAP_PURPLE_SNW, frac: "200-300" },
  { env: TRAP_BLUE_ENV, snw: TRAP_BLUE_SNW, frac: "250-300" },
  { env: TRAP_PINK_A_ENV, snw: TRAP_PINK_A_SNW, frac: "200-250" },
  { env: TRAP_PINK_B_ENV, snw: TRAP_PINK_B_SNW, frac: "200-250" },
];

const FONT = '"Liberation Sans", Arial, Helvetica, sans-serif';
const colorOf = (f: string) => FRACTION_COLORS[FRACTIONS.indexOf(f)];
const rgba = (hex: string, a: number) => {
  const n = parseInt(hex.slice(1), 16);
  return `rgba(${(n >> 16) & 255},${(n >> 8) & 255},${n & 255},${a})`;
};

// layout
const GRIDS = [
  { left: 72, top: 9 }, { left: 512.5, top: 9 }, { left: 952.5, top: 9 },
  { left: 72, top: 421 }, { left: 512.5, top: 421 }, { left: 952.5, top: 421 },
];
const GW = 362, GH = 336;

function buildOption() {
  const grid = GRIDS.map((g) => ({ left: g.left, top: g.top, width: GW, height: GH, show: true, borderColor: "#111", borderWidth: 1.6, backgroundColor: "transparent" }));

  const yAxis = GRIDS.map((_, i) => ({
    type: "value", gridIndex: i, min: -2.45, max: 52.45, position: "left",
    axisLine: { show: false, onZero: false },
    axisTick: { show: true, length: 4, customValues: Y_TICKS, lineStyle: { color: "#333", width: 1.2 } },
    axisLabel: { customValues: Y_TICKS, color: "#4D4D4D", fontSize: 16, fontFamily: FONT, margin: 7 },
    splitLine: { show: false },
  }));

  const xAxis: any[] = [{
    type: "value", gridIndex: 0, min: 0.4, max: 3.6, position: "bottom",
    axisLine: { show: false, onZero: false },
    axisTick: { show: true, length: 4, customValues: [1, 2, 3], lineStyle: { color: "#333", width: 1.2 } },
    axisLabel: { customValues: [1, 2, 3], color: "#4D4D4D", fontSize: 16, fontFamily: FONT, margin: 8, formatter: (v: number) => BOX_GROUPS[Math.round(v) - 1] || "" },
    splitLine: { show: false },
  }];
  X_AXES.forEach((ax, k) => {
    xAxis.push({
      type: "value", gridIndex: k + 1, min: ax.min, max: ax.max, position: "bottom",
      axisLine: { show: false, onZero: false },
      axisTick: { show: true, length: 4, customValues: ax.ticks, lineStyle: { color: "#333", width: 1.2 } },
      axisLabel: { customValues: ax.ticks, color: "#4D4D4D", fontSize: 16, fontFamily: FONT, margin: 8, formatter: (v: number) => v.toFixed(ax.dec) },
      splitLine: { show: false },
    });
  });

  const series: any[] = [];

  // ---- boxplots ----
  const boxRows: number[][] = [];
  const outliers: number[][] = [];
  const addGroup = (gi: number, fracs: string[], stats: (number[] | null)[]) => {
    const n = fracs.length;
    const w = 0.75 / n;
    fracs.forEach((f, s) => {
      const st = stats[s];
      if (!st) return;
      const xc = gi + 1 + (s - (n - 1) / 2) * w;
      boxRows.push([xc, w / 2, st[0], st[1], st[2], st[3], st[4], FRACTIONS.indexOf(f)]);
    });
  };
  addGroup(0, BOX_CORETOP_FRAC, BOX_CORETOP_STATS);
  addGroup(1, BOX_CORE_FRAC, BOX_CORE_STATS);
  addGroup(2, BOX_TRAP_FRAC, BOX_TRAP_STATS);
  const outPos = (gi: number, fracs: string[], f: string) => {
    const n = fracs.length; const w = 0.75 / n; const s = fracs.indexOf(f);
    return gi + 1 + (s - (n - 1) / 2) * w;
  };
  OUT_CORETOP_200_250.forEach((v) => outliers.push([outPos(0, BOX_CORETOP_FRAC, "200-250"), v]));
  OUT_CORETOP_250_300.forEach((v) => outliers.push([outPos(0, BOX_CORETOP_FRAC, "250-300"), v]));
  OUT_CORE_200_250.forEach((v) => outliers.push([outPos(1, BOX_CORE_FRAC, "200-250"), v]));
  OUT_TRAP_200_250.forEach((v) => outliers.push([outPos(2, BOX_TRAP_FRAC, "200-250"), v]));

  series.push({
    type: "custom", xAxisIndex: 0, yAxisIndex: 0, silent: true, data: boxRows,
    renderItem: (params: any, api: any) => {
      const xc = api.value(0), hw = api.value(1), lo = api.value(2), q1 = api.value(3), med = api.value(4), q3 = api.value(5), hi = api.value(6), ci = api.value(7);
      const tl = api.coord([xc - hw, q3]);
      const br = api.coord([xc + hw, q1]);
      const pHi = api.coord([xc, hi]);
      const pLo = api.coord([xc, lo]);
      const m1 = api.coord([xc - hw, med]);
      const m2 = api.coord([xc + hw, med]);
      const stroke = "#333333";
      return {
        type: "group",
        children: [
          { type: "line", shape: { x1: pHi[0], y1: pHi[1], x2: pHi[0], y2: tl[1] }, style: { stroke, lineWidth: 1.7 } },
          { type: "line", shape: { x1: pLo[0], y1: br[1], x2: pLo[0], y2: pLo[1] }, style: { stroke, lineWidth: 1.7 } },
          { type: "rect", shape: { x: tl[0], y: tl[1], width: br[0] - tl[0], height: br[1] - tl[1] }, style: { fill: rgba(FRACTION_COLORS[ci], 0.45), stroke, lineWidth: 1.7 } },
          { type: "line", shape: { x1: m1[0], y1: m1[1], x2: m2[0], y2: m2[1] }, style: { stroke, lineWidth: 1.7 } },
        ],
      };
    },
  });
  series.push({
    type: "scatter", xAxisIndex: 0, yAxisIndex: 0, silent: true, data: outliers, symbol: "circle", symbolSize: 8,
    itemStyle: { color: "#222", opacity: 0.45 },
  });

  // ---- scatter panels ----
  const sc = (gi: number, data: number[][], color: string, symbol: string, size: number, op: number) => ({
    type: "scatter", xAxisIndex: gi, yAxisIndex: gi, data, symbol, symbolSize: size, silent: true,
    itemStyle: { color, opacity: op },
  });
  PANEL_POINTS.forEach((p, k) => {
    const gi = k + 1;
    series.push(sc(gi, p.ctCyan, colorOf("300-350"), "circle", 10, 0.3));
    series.push(sc(gi, p.ctGreen, colorOf("350-400"), "circle", 10, 0.3));
    series.push(sc(gi, p.ctBlue, colorOf("250-300"), "circle", 10, 0.3));
    series.push(sc(gi, p.ctPink, colorOf("200-250"), "circle", 10, 0.3));
    series.push(sc(gi, p.ctGold, colorOf("400-500"), "circle", 10, 0.3));
    series.push(sc(gi, p.scBlue, colorOf("250-300"), "triangle", 13, 0.38));
    series.push(sc(gi, p.scPink, colorOf("200-250"), "triangle", 13, 0.38));
    series.push(sc(gi, p.scGold, colorOf("400-500"), "triangle", 13, 0.38));
    series.push(sc(gi, p.scCyan, colorOf("300-350"), "triangle", 13, 0.38));
    TRAP_SITES.forEach((t) => {
      series.push(sc(gi, t.snw.map((y) => [t.env[k], y]), colorOf(t.frac), "rect", 10, 0.33));
    });
  });

  // ---- graphics: panel labels, axis titles, legend ----
  const txt = (text: string, x: number, y: number, size: number, align = "left", color = "#000", rotation = 0) => ({
    type: "text", x, y, rotation, silent: true,
    style: { text, fill: color, font: `${size}px ${FONT}`, textAlign: align, textVerticalAlign: "middle", align, verticalAlign: "middle" },
  });
  const graphic: any[] = [];
  GRIDS.forEach((g, i) => graphic.push(txt(PANEL_LABELS[i], g.left + 8, g.top + 17, 16)));
  const titlePos = [[679, 386], [1153, 386], [254, 800], [675.5, 800], [1137.5, 800]];
  X_TITLES.forEach((t, k) => graphic.push(txt(t, titlePos[k][0], titlePos[k][1], 20, "center")));
  graphic.push(txt("SNW (µm)", 24.5, 177, 20, "center", "#000", Math.PI / 2));
  graphic.push(txt("SNW (µm)", 24.5, 590, 20, "center", "#000", Math.PI / 2));

  // legend: sieve size fraction
  const LX = 1333, KW = 34.5, KH = 34.67;
  graphic.push(txt("Sieve size fraction", 1338, 162, 20.5));
  FRACTIONS.forEach((f, i) => {
    const top = 182.3 + i * KH;
    graphic.push({ type: "rect", silent: true, shape: { x: LX, y: top, width: KW, height: KH }, style: { fill: "#fff", stroke: "#111", lineWidth: 1.5 } });
    graphic.push({ type: "circle", silent: true, shape: { cx: LX + 17.3, cy: top + KH / 2, r: 4.5 }, style: { fill: FRACTION_COLORS[i] } });
    graphic.push(txt(f, 1379, top + KH / 2, 17));
  });
  // legend: sampling method
  graphic.push(txt("Sampling method", 1338, 512.7, 20.5));
  METHODS.forEach((m, i) => {
    const top = 535.7 + i * KH;
    const cx = LX + 17.3, cy = top + KH / 2;
    graphic.push({ type: "rect", silent: true, shape: { x: LX, y: top, width: KW, height: KH }, style: { fill: "#fff", stroke: "#111", lineWidth: 1.5 } });
    if (i === 0) graphic.push({ type: "circle", silent: true, shape: { cx, cy, r: 4 }, style: { fill: "#000" } });
    if (i === 1) graphic.push({ type: "polygon", silent: true, shape: { points: [[cx, cy - 4.5], [cx + 4.8, cy + 3.8], [cx - 4.8, cy + 3.8]] }, style: { fill: "#000" } });
    if (i === 2) graphic.push({ type: "rect", silent: true, shape: { x: cx - 3.7, y: cy - 3.7, width: 7.4, height: 7.4 }, style: { fill: "#000" } });
    graphic.push(txt(m, 1379, cy, 17));
  });

  return { animation: false, backgroundColor: "#fff", grid, xAxis, yAxis, series, graphic };
}

export default function App() {
  const ref = useRef<HTMLDivElement>(null);
  useEffect(() => {
    if (!ref.current) return;
    const chart = echarts.init(ref.current, null, { renderer: "svg" });
    chart.setOption(buildOption() as any);
    return () => chart.dispose();
  }, []);
  return <div ref={ref} style={{ position: "fixed", left: 0, top: 0, width: 1514, height: 816, background: "#fff" }} />;
}
